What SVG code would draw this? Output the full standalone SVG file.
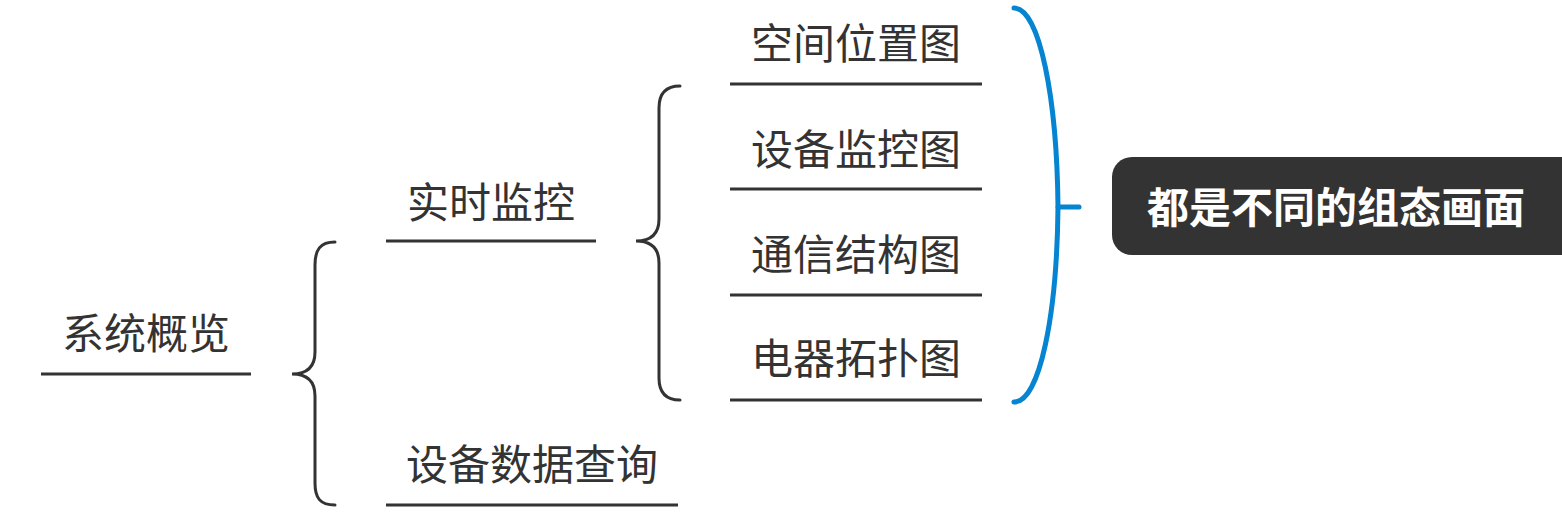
<svg xmlns="http://www.w3.org/2000/svg" width="1562" height="516" viewBox="0 0 1562 516">
<style>
.t{font-family:"Noto Sans CJK SC","Noto Sans",sans-serif;font-size:42px;fill:#333;dominant-baseline:central;text-anchor:middle}
.u{stroke:#333;stroke-width:3;fill:none}
.b{stroke:#333;stroke-width:3;fill:none;stroke-linecap:round}
.bt{font-family:"Noto Sans CJK SC","Noto Sans",sans-serif;font-size:42px;font-weight:bold;fill:#fff;dominant-baseline:central;text-anchor:middle}
</style>
<rect width="1562" height="516" fill="#fff"/>
<g id="connectors">
<path class="b" d="M335,242 C320,242 315,250 315,265 L315,352 C315,366 308,374 292,374 C308,374 315,382 315,396 L315,483 C315,498 320,505 335,505"/>
<path class="b" d="M680,86 C665,86 659,94 659,108 L659,219 C659,233 652,241 636,241 C652,241 659,249 659,263 L659,378 C659,392 665,400 680,400"/>
<path d="M1014,8 C1040,8 1057,100 1058,207 C1057,314 1040,402 1014,402" stroke="#0584d1" stroke-width="5" fill="none" stroke-linecap="round"/>
<path d="M1058,207 L1079,207" stroke="#0584d1" stroke-width="5" fill="none" stroke-linecap="round"/>
</g>
<g id="n-root"><text class="t" x="146" y="330">系统概览</text><line class="u" x1="41" y1="374" x2="251" y2="374"/></g>
<g id="n-realtime"><text class="t" x="491" y="199">实时监控</text><line class="u" x1="386" y1="241" x2="596" y2="241"/></g>
<g id="n-query"><text class="t" x="532" y="461">设备数据查询</text><line class="u" x1="386" y1="505" x2="678" y2="505"/></g>
<g id="n-space"><text class="t" x="856" y="40">空间位置图</text><line class="u" x1="730" y1="84" x2="982" y2="84"/></g>
<g id="n-device"><text class="t" x="856" y="146">设备监控图</text><line class="u" x1="730" y1="189" x2="982" y2="189"/></g>
<g id="n-comm"><text class="t" x="856" y="251">通信结构图</text><line class="u" x1="730" y1="295" x2="982" y2="295"/></g>
<g id="n-elec"><text class="t" x="856" y="355">电器拓扑图</text><line class="u" x1="730" y1="400" x2="982" y2="400"/></g>
<g id="n-summary"><rect x="1112" y="157" width="470" height="98" rx="20" fill="#333"/><text class="bt" x="1336" y="204">都是不同的组态画面</text></g>
</svg>
